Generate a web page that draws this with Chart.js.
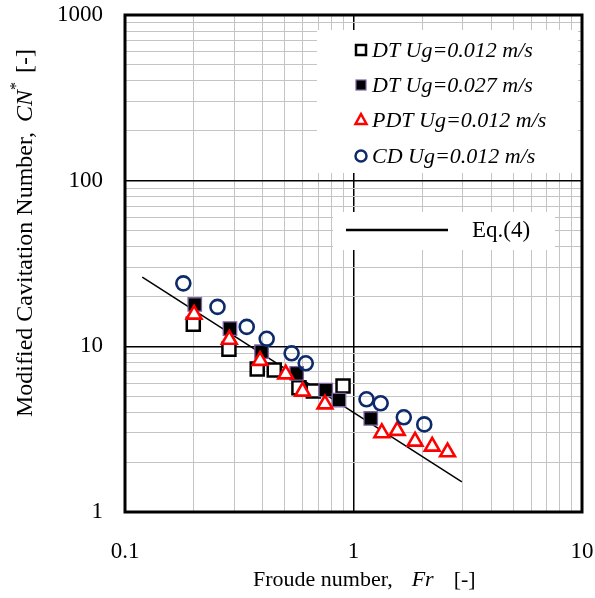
<!DOCTYPE html>
<html>
<head>
<meta charset="utf-8">
<script src="https://cdn.jsdelivr.net/npm/chart.js@4/dist/chart.umd.min.js"></script>
<style>
  html, body { margin: 0; padding: 0; background: #fff; }
  #wrap { width: 595px; height: 598px; }
</style>
</head>
<body>
<div id="wrap"><canvas id="cv" width="595" height="598"></canvas></div>
<script>
// data
const dtLowFr = [0.199, 0.285, 0.379, 0.45, 0.577, 0.667, 0.90];
const dtLowCN = [13.6, 9.6, 7.3, 7.2, 5.63, 5.37, 5.76];
const dtHighFr = [0.202, 0.288, 0.396, 0.564, 0.756, 0.864, 1.19];
const dtHighCN = [17.9, 12.8, 9.28, 6.87, 5.45, 4.74, 3.67];
const pdtFr = [0.2006, 0.286, 0.390, 0.505, 0.599, 0.750, 1.33, 1.555, 1.86, 2.21, 2.58];
const pdtCN = [15.6, 11.0, 8.2, 6.8, 5.35, 4.48, 3.0, 3.1, 2.67, 2.49, 2.3];
const cdFr = [0.180, 0.254, 0.341, 0.417, 0.536, 0.618, 1.14, 1.315, 1.66, 2.04];
const cdCN = [24.0, 17.3, 13.1, 11.1, 9.08, 7.9, 4.79, 4.53, 3.73, 3.38];
const eqFr = [0.119, 2.98];
const eqCN = [26.2, 1.52];

const xTickLabels = [0.1, 1, 10];
const yTickLabels = [1, 10, 100, 1000];
const seriesNames = ['DT Ug=0.012 m/s', 'DT Ug=0.027 m/s', 'PDT Ug=0.012 m/s', 'CD Ug=0.012 m/s'];
const eqName = 'Eq.(4)';

const SERIF = '"Liberation Serif", "Times New Roman", serif';
const NAVY = '#0d2a6b';
const PURPLE = '#8064a2';

const pts = (xs, ys) => xs.map((x, i) => ({ x: x, y: ys[i] }));

// 1..9 x each decade between min and max
function decadeGrid(min, max) {
    const out = [];
    for (let d = min; d <= max * 1.0001; d *= 10) {
        for (let k = 1; k < 10; k++) {
            const v = +(d * k).toPrecision(6);
            if (v <= max * 1.0001) out.push(v);
        }
    }
    return out;
}
const isMajor = v => Math.abs(Math.log10(v) - Math.round(Math.log10(v))) < 1e-6;

function axis(min, max, labels, pad, fix) {
    return {
        type: 'logarithmic',
        min: min,
        max: max,
        afterBuildTicks: s => { s.ticks = decadeGrid(min, max).map(v => ({ value: v, major: isMajor(v) })); },
        afterFit: s => {
            fix(s);
            // labels may hang over the plot edges, don't let the layout shrink for them
            s.paddingLeft = s.paddingRight = s.paddingTop = s.paddingBottom = 0;
        },
        grid: {
            drawTicks: false,
            color: c => (c.tick && isMajor(c.tick.value)) ? '#000' : '#c4c4c4',
            lineWidth: c => (c.tick && isMajor(c.tick.value)) ? 1.5 : 1,
        },
        border: { display: false },
        ticks: {
            autoSkip: false,
            maxRotation: 0,
            padding: pad,
            color: '#000',
            font: { family: SERIF, size: 23 },
            callback: v => labels.some(l => Math.abs(l - v) < 1e-9 * l) ? String(v) : '',
        },
    };
}

const ctx = document.getElementById('cv');

const decor = {
    id: 'decor',
    afterDatasetsDraw(chart) {
        const g = chart.ctx;
        g.save();
        // legend 1
        g.fillStyle = '#fff';
        g.fillRect(317, 30, 261, 143);
        const rows = [50, 85, 120, 156];
        const mx = 361;
        g.lineWidth = 2.5;
        // open square
        g.strokeStyle = '#000';
        g.strokeRect(mx - 5, rows[0] - 5, 10, 10);
        // filled square
        g.fillStyle = '#000';
        g.fillRect(mx - 5, rows[1] - 5, 10, 10);
        g.lineWidth = 1.2;
        g.strokeStyle = PURPLE;
        g.strokeRect(mx - 5, rows[1] - 5, 10, 10);
        // triangle
        g.lineWidth = 2.5;
        g.strokeStyle = '#ff0000';
        g.fillStyle = '#fff';
        g.beginPath();
        g.moveTo(mx, rows[2] - 6);
        g.lineTo(mx + 5.5, rows[2] + 4);
        g.lineTo(mx - 5.5, rows[2] + 4);
        g.closePath();
        g.fill();
        g.stroke();
        // circle
        g.strokeStyle = NAVY;
        g.beginPath();
        g.arc(mx, rows[3], 5.5, 0, Math.PI * 2);
        g.stroke();

        g.fillStyle = '#000';
        g.font = 'italic 22px ' + SERIF;
        g.textBaseline = 'middle';
        g.textAlign = 'left';
        seriesNames.forEach((t, i) => g.fillText(t, 372, rows[i] + 1));

        // legend 2
        g.fillStyle = '#fff';
        g.fillRect(333, 212, 222, 38);
        g.strokeStyle = '#000';
        g.lineWidth = 2.5;
        g.beginPath();
        g.moveTo(346, 230);
        g.lineTo(448, 230);
        g.stroke();
        g.fillStyle = '#000';
        g.font = '23px ' + SERIF;
        g.fillText(eqName, 472, 231);

        g.restore();
    },
    afterDraw(chart) {
        const g = chart.ctx;
        const a = chart.chartArea;
        g.save();
        g.strokeStyle = '#000';
        g.lineWidth = 3;
        g.strokeRect(a.left, a.top, a.right - a.left, a.bottom - a.top);

        // x title
        g.fillStyle = '#000';
        g.textBaseline = 'middle';
        g.textAlign = 'left';
        let x = 253;
        const y = 580;
        g.font = '22px ' + SERIF;
        g.fillText('Froude number,', x, y);
        x += g.measureText('Froude number,').width + 19;
        g.font = 'italic 22px ' + SERIF;
        g.fillText('Fr', x, y);
        x += g.measureText('Fr').width + 20;
        g.font = '22px ' + SERIF;
        g.fillText('[-]', x, y);

        // y title
        g.translate(32, 417);
        g.rotate(-Math.PI / 2);
        g.textBaseline = 'alphabetic';
        x = 0;
        g.font = '24px ' + SERIF;
        g.fillText('Modified Cavitation Number,', x, 0);
        x += g.measureText('Modified Cavitation Number,').width + 10;
        g.font = 'italic 24px ' + SERIF;
        g.fillText('CN', x, 0);
        x += g.measureText('CN').width;
        g.font = '16px ' + SERIF;
        g.fillText('*', x, -11);
        x += g.measureText('*').width + 9;
        g.font = '24px ' + SERIF;
        g.fillText('[-]', x, 0);
        g.restore();
    },
};

new Chart(ctx, {
    type: 'scatter',
    data: {
        datasets: [
            {
                label: seriesNames[3],
                data: pts(cdFr, cdCN),
                order: 1,
                pointStyle: 'circle',
                pointRadius: 7,
                borderWidth: 2.6,
                borderColor: NAVY,
                backgroundColor: 'rgba(255,255,255,0)',
            },
            {
                label: seriesNames[2],
                data: pts(pdtFr, pdtCN),
                order: 2,
                pointStyle: 'triangle',
                pointRadius: 8.5,
                borderWidth: 2.6,
                borderColor: '#ff0000',
                backgroundColor: '#fff',
            },
            {
                label: seriesNames[1],
                data: pts(dtHighFr, dtHighCN),
                order: 3,
                pointStyle: 'rect',
                pointRadius: 9.5,
                borderWidth: 1.3,
                borderColor: PURPLE,
                backgroundColor: '#000',
            },
            {
                label: seriesNames[0],
                data: pts(dtLowFr, dtLowCN),
                order: 4,
                pointStyle: 'rect',
                pointRadius: 9.2,
                borderWidth: 2.5,
                borderColor: '#000',
                backgroundColor: '#fff',
            },
            {
                label: eqName,
                type: 'line',
                data: pts(eqFr, eqCN),
                order: 5,
                showLine: true,
                borderColor: '#000',
                borderWidth: 1.5,
                pointRadius: 0,
                fill: false,
            },
        ],
    },
    options: {
        responsive: false,
        animation: false,
        events: [],
        layout: { padding: { top: 15, right: 13, left: 0, bottom: 0 } },
        plugins: {
            legend: { display: false },
            tooltip: { enabled: false },
        },
        scales: {
            x: Object.assign(axis(0.1, 10, xTickLabels, 26, s => { s.height = 86; }), { position: 'bottom' }),
            y: Object.assign(axis(1, 1000, yTickLabels, 22, s => { s.width = 125; }), { position: 'left' }),
        },
    },
    plugins: [decor],
});
</script>
</body>
</html>
